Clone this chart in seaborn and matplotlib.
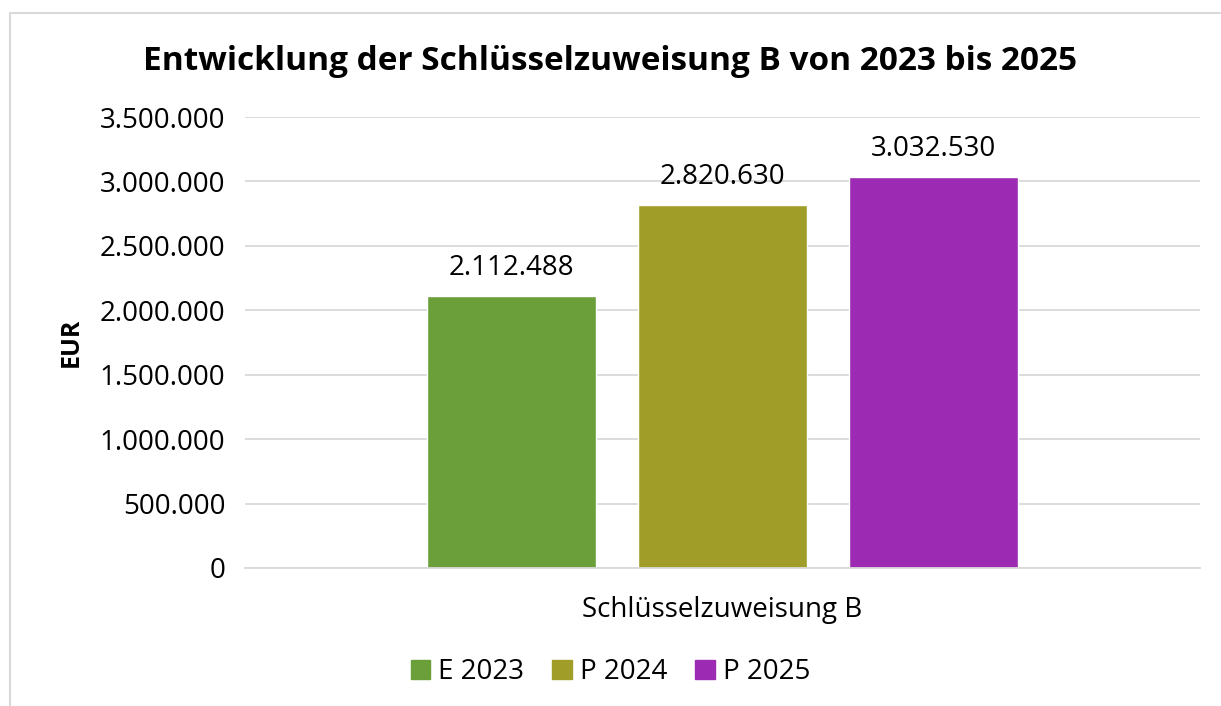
import pandas as pd
import matplotlib.pyplot as plt
import matplotlib.patches as mpatches
import seaborn as sns

# data
category = ["Schlüsselzuweisung B"]
series = ["E 2023", "P 2024", "P 2025"]
values = [2112488, 2820630, 3032530]
colors = ["#6A9F3A", "#A09D28", "#9C2AB3"]

df = pd.DataFrame({
    "Kategorie": category * len(series),
    "Jahr": series,
    "EUR": values,
})


def de_fmt(v):
    return f"{v:,.0f}".replace(",", ".")


sns.set_theme(style="white")
plt.rcParams["font.family"] = ["Open Sans", "DejaVu Sans"]
plt.rcParams["text.color"] = "black"
plt.rcParams["xtick.color"] = "black"
plt.rcParams["ytick.color"] = "black"
plt.rcParams["axes.labelcolor"] = "black"

fig = plt.figure(figsize=(12.21, 7.06), dpi=100)
ax = fig.add_axes([245 / 1221, 1 - 568 / 706, 955 / 1221, 451 / 706])

sns.barplot(data=df, x="Kategorie", y="EUR", hue="Jahr", palette=colors,
            width=0.663, gap=0.2, saturation=1, ax=ax, legend=False)

ax.set_ylim(0, 3500000)
ax.set_xlim(-0.5, 0.5)
ticks = list(range(0, 3500001, 500000))
ax.set_yticks(ticks)
ax.set_yticklabels([de_fmt(t) for t in ticks], fontsize=20)
ax.yaxis.grid(True, color="#D9D9D9", linewidth=1.3)
ax.set_axisbelow(True)
for s in ["top", "right", "left"]:
    ax.spines[s].set_visible(False)
ax.spines["bottom"].set_color("#D9D9D9")
ax.spines["bottom"].set_linewidth(1.3)
ax.tick_params(axis="y", length=0, pad=14)
ax.tick_params(axis="x", length=0, pad=20, labelsize=20)
ax.set_xlabel("")
ax.set_ylabel("EUR", fontsize=18, fontweight="bold", labelpad=12)

for bar, v in zip(ax.patches, values):
    ax.annotate(de_fmt(v), (bar.get_x() + bar.get_width() / 2, bar.get_height()),
                xytext=(0, 10), textcoords="offset points",
                ha="center", va="bottom", fontsize=20)

fig.suptitle("Entwicklung der Schlüsselzuweisung B von 2023 bis 2025",
             fontsize=24, fontweight="bold", y=1 - 62 / 706, va="center")

handles = [mpatches.Patch(color=c, label=s) for c, s in zip(colors, series)]
fig.legend(handles=handles, loc="center", bbox_to_anchor=(0.5, 1 - 672 / 706),
           ncol=3, frameon=False, fontsize=20, handlelength=0.7, handleheight=0.7,
           handletextpad=0.3, columnspacing=1.0)

# chart frame
fig.add_artist(plt.Rectangle((10 / 1221, -0.01), 1.1, 1 - 13 / 706 + 0.01,
                             transform=fig.transFigure, fill=False,
                             edgecolor="#D9D9D9", linewidth=1.5))

fig.savefig("out.png", dpi=100)
